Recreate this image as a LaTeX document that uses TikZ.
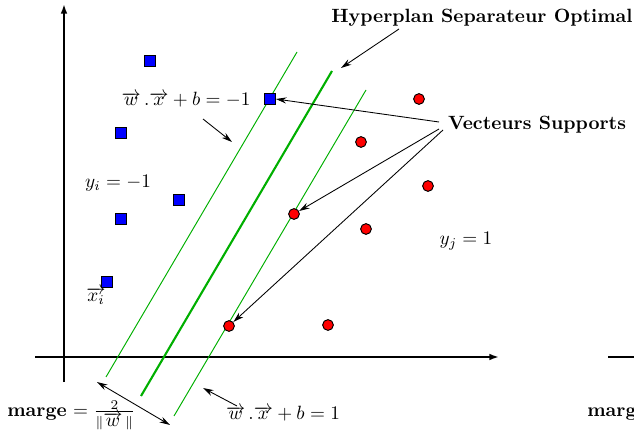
\documentclass[tikz,border=0pt]{standalone}
\usetikzlibrary{arrows.meta}
\definecolor{svmgreen}{RGB}{0,175,0}
\begin{document}
\begin{tikzpicture}[x=0.521pt,y=-0.521pt,
  axis/.style={line width=1pt,-{Latex[length=5pt,width=3.5pt]}},
  conn/.style={line width=0.45pt,-{Stealth[length=5.5pt,width=3.2pt]}},
  dconn/.style={line width=0.45pt,{Stealth[length=5.5pt,width=3.2pt]}-{Stealth[length=5.5pt,width=3.2pt]}},
  negpt/.style={draw=black,fill=blue,line width=0.5pt,minimum size=5.6pt,inner sep=0pt,rectangle},
  pospt/.style={draw=black,fill=red,line width=0.5pt,minimum size=5.6pt,inner sep=0pt,circle},
  thin margin/.style={svmgreen,line width=0.5pt},
  thick margin/.style={svmgreen,line width=1.1pt},
  lbl/.style={inner sep=1pt}]
\clip (0,0) rectangle (634,441);
\useasboundingbox (0,0) rectangle (634,441);
% axes
\coordinate (ya0) at (64,382); \coordinate (ya1) at (64,4);
\coordinate (xa0) at (35,357); \coordinate (xa1) at (499,357);
\draw[axis] (ya0) -- (ya1);
\draw[axis] (xa0) -- (xa1);
\coordinate (xb0) at (608,357); \coordinate (xb1) at (660,357);
\draw[line width=1pt] (xb0) -- (xb1);
% margins
\coordinate (m1a) at (106,377); \coordinate (m1b) at (297,52);
\coordinate (h0) at (141,396); \coordinate (h1) at (332,71);
\coordinate (m2a) at (174,416); \coordinate (m2b) at (366,90);
\draw[thin margin] (m1a) -- (m1b);
\draw[thick margin] (h0) -- (h1);
\draw[thin margin] (m2a) -- (m2b);
% negative points
\node[negpt] (n1) at (150,61) {};
\node[negpt] (n2) at (270,99) {};
\node[negpt] (n3) at (121,133) {};
\node[negpt] (n4) at (179,200) {};
\node[negpt] (n5) at (121,219) {};
\node[negpt] (n6) at (107,282) {};
% positive points
\node[pospt] (p1) at (419,99) {};
\node[pospt] (p2) at (361,142) {};
\node[pospt] (p3) at (428,186) {};
\node[pospt] (p4) at (294,214) {};
\node[pospt] (p5) at (366,229) {};
\node[pospt] (p6) at (229,326) {};
\node[pospt] (p7) at (328,325) {};
% labels
\node[lbl] (hyp) at (482,18) {\textbf{Hyperplan Separateur Optimal}};
\node[lbl] (vs) at (537,125) {\textbf{Vecteurs Supports}};
\node[lbl] (eqm) at (186,100) {$\overrightarrow{w}\,.\overrightarrow{x}+b=-1$};
\node[lbl] (eqp) at (283,414) {$\overrightarrow{w}\,.\overrightarrow{x}+b=1$};
\node[lbl] (yi) at (118,183) {$y_i=-1$};
\node[lbl] (yj) at (466,241) {$y_j=1$};
\node[lbl] (xi) at (96,296) {$\overrightarrow{x_i}$};
\node[lbl,anchor=west] (marge) at (5,415) {\textbf{marge} $=\frac{2}{\|\overrightarrow{w}\,\|}$};
\node[lbl,anchor=west] (marge2) at (585,415) {\textbf{marge} $=\frac{2}{\|\overrightarrow{w}\,\|}$};
% connectors
\coordinate (hypt) at (399,29); \coordinate (hyph) at (341,68);
\draw[conn] (hypt) -- (hyph);
\coordinate (vs1) at (439,122);
\coordinate (vs2) at (439,129);
\coordinate (vs3) at (443,130);
\draw[conn] (vs1) -- (n2.east);
\draw[conn] (vs2) -- (p4);
\draw[conn] (vs3) -- (p6);
\coordinate (em0) at (203,119); \coordinate (em1) at (232,142);
\draw[conn] (em0) -- (em1);
\coordinate (ep0) at (237,406); \coordinate (ep1) at (203,388);
\draw[conn] (ep0) -- (ep1);
\coordinate (mg0) at (97,382); \coordinate (mg1) at (170,425);
\draw[dconn] (mg0) -- (mg1);
\end{tikzpicture}
\end{document}
